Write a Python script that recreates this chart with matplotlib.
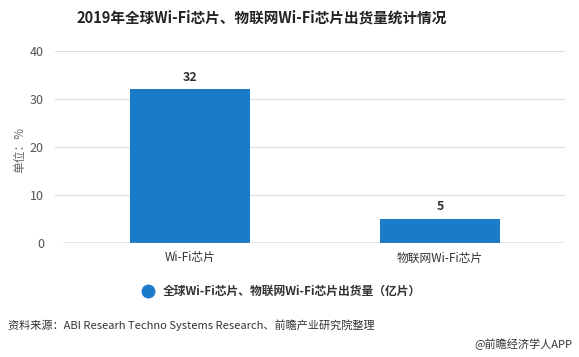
import matplotlib
matplotlib.use("Agg")
import matplotlib.pyplot as plt
from matplotlib.lines import Line2D

plt.rcParams['font.family'] = ['Noto Sans CJK SC', 'DejaVu Sans']

categories = ["Wi-Fi芯片", "物联网Wi-Fi芯片"]
values = [32, 5]
yticks = [0, 10, 20, 30, 40]
series_name = "全球Wi-Fi芯片、物联网Wi-Fi芯片出货量（亿片）"
bar_color = "#1a7bc9"

fig = plt.figure(figsize=(5.79, 3.57), dpi=100)
ax = fig.add_axes([0.095, 0.319, 0.881, 0.538])

x = range(len(categories))
ax.bar(x, values, width=0.48, color=bar_color, zorder=3)
for xi, v in zip(x, values):
    ax.text(xi, v + 1.2, str(v), ha="center", va="bottom", fontsize=9,
            fontweight="bold", color="#333333")

ax.set_xlim(-0.54, 1.5)
ax.set_ylim(0, 40)
ax.set_yticks(yticks)
ax.set_xticks(list(x))
ax.set_xticklabels(categories)
ax.grid(axis="y", color="#dddddd", linewidth=0.8, zorder=0)
for s in ["top", "right", "left", "bottom"]:
    ax.spines[s].set_visible(False)
# darker baseline at 0, starting a little right of the grid
ax.axhline(0, xmin=9 / 510, xmax=1, color="#999999", linewidth=1, zorder=4)
ax.tick_params(axis="y", length=0, labelsize=9, labelcolor="#555555", pad=8)
ax.tick_params(axis="x", length=0, labelsize=8.5, labelcolor="#333333", pad=6)

# y unit label, placed by hand so it clears the tick labels
fig.text(20 / 579, 1 - 150 / 357, "单位：%", rotation=90, ha="center", va="center",
         fontsize=8.5, color="#666666")

fig.text(262 / 579, 0.952, "2019年全球Wi-Fi芯片、物联网Wi-Fi芯片出货量统计情况",
         ha="center", va="center", fontsize=10.5, fontweight="bold", color="#222222")

# legend
fig.add_artist(Line2D([148 / 579], [1 - 291 / 357], marker="o", markersize=9,
                      color=bar_color, linestyle="none", transform=fig.transFigure))
fig.text(163 / 579, 1 - 291 / 357, series_name, ha="left", va="center",
         fontsize=8.5, fontweight="bold", color="#333333")

fig.text(8 / 579, 1 - 325 / 357, "资料来源：ABI Researh Techno Systems Research、前瞻产业研究院整理",
         ha="left", va="center", fontsize=8, color="#333333")
fig.text(572 / 579, 1 - 344 / 357, "@前瞻经济学人APP",
         ha="right", va="center", fontsize=8, color="#333333")

fig.savefig("out.png", dpi=100)
